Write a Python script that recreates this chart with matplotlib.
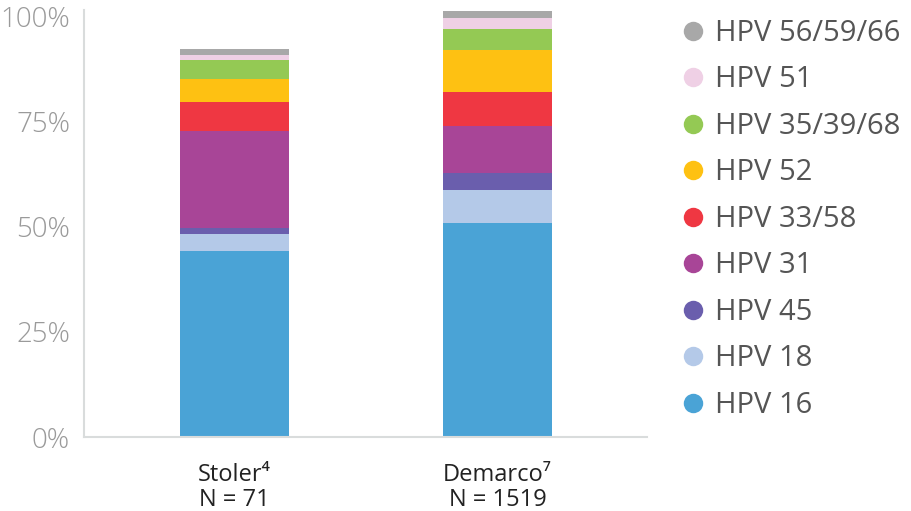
import numpy as np
import matplotlib
matplotlib.use("Agg")
import matplotlib.pyplot as plt
from matplotlib.lines import Line2D

plt.rcParams['font.family'] = ['Open Sans', 'DejaVu Sans']

studies = ["Stoler\u2074\nN = 71", "Demarco\u2077\nN = 1519"]
types = ["HPV 16", "HPV 18", "HPV 45", "HPV 31", "HPV 33/58",
         "HPV 52", "HPV 35/39/68", "HPV 51", "HPV 56/59/66"]
stoler = [44.2, 4.0, 1.6, 23.0, 7.0, 5.4, 4.4, 1.4, 1.4]
demarco = [51.0, 7.8, 4.1, 11.1, 8.2, 10.0, 5.0, 2.4, 1.7]
colors = ["#4aa3d6", "#b4c9e8", "#6a5ead", "#a84597", "#ef3742",
          "#fec112", "#94c954", "#efd0e5", "#a8a8a8"]

fig = plt.figure(figsize=(9.12, 5.11), dpi=100)
ax = fig.add_axes([0.0921, 0.1448, 0.6173, 0.8356])

x = np.arange(len(studies))
bottom = np.zeros(len(studies))
for i in range(len(types)):
    vals = np.array([stoler[i], demarco[i]])
    ax.bar(x, vals, bottom=bottom, width=0.414, color=colors[i], linewidth=0)
    bottom += vals

ax.set_xlim(-0.572, 1.568)
ax.set_ylim(0, 101.6)
ax.set_yticks([0, 25, 50, 75, 100])
ax.set_yticklabels(["0%", "25%", "50%", "75%", "100%"], fontweight='light')
ax.set_xticks(x)
ax.set_xticklabels(studies, linespacing=1.05)
ax.tick_params(axis='y', length=0, pad=10, labelsize=20, labelcolor="#9a9a9a")
ax.tick_params(axis='x', length=0, pad=19, labelsize=17, labelcolor="#222222")

for s in ["top", "right"]:
    ax.spines[s].set_visible(False)
for s in ["left", "bottom"]:
    ax.spines[s].set_color("#d9dcdc")
    ax.spines[s].set_linewidth(1.5)

handles = [Line2D([], [], marker='o', linestyle='none', markersize=14,
                  markerfacecolor=c, markeredgewidth=0) for c in colors]
leg = fig.legend(handles[::-1], types[::-1], loc='upper left',
                 bbox_to_anchor=(0.747, 0.963), frameon=False,
                 fontsize=21, labelspacing=0.6, handletextpad=0.35,
                 handlelength=0.8, borderpad=0, borderaxespad=0)
for t in leg.get_texts():
    t.set_color("#555555")

fig.savefig("out.png", dpi=100)
